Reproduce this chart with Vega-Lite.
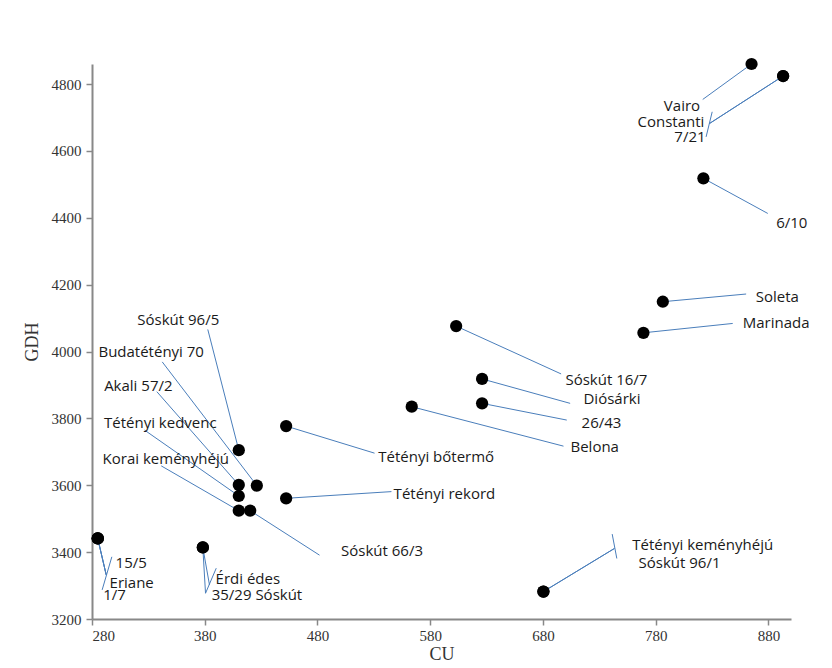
{
  "$schema": "https://vega.github.io/schema/vega-lite/v6.json",
  "autosize": "none",
  "width": 699,
  "height": 555,
  "padding": {"left": 92, "top": 64, "right": 41, "bottom": 49},
  "background": "white",
  "config": {
    "view": {"stroke": null},
    "axis": {
      "grid": false,
      "domainColor": "#888888",
      "domainWidth": 2,
      "tickColor": "#888888",
      "tickWidth": 1.5,
      "tickSize": 6,
      "labelFont": "Liberation Serif",
      "labelFontSize": 15,
      "labelColor": "#333333",
      "titleFont": "Liberation Serif",
      "titleFontSize": 18,
      "titleFontWeight": "normal",
      "titleColor": "#333333",
      "format": "d"
    }
  },
  "datasets": {
    "pts": [
      {"name": "Vairo", "cu": 865, "gdh": 4860, "tx": 803.3, "ty": 4734, "ex": 821.7, "ey": 4754},
      {"name": "Constanti", "cu": 893, "gdh": 4824, "tx": 793.5, "ty": 4686, "ex": 827.7, "ey": 4682},
      {"name": "7/21", "cu": 893, "gdh": 4824, "tx": 810.4, "ty": 4641, "ex": 827.7, "ey": 4682},
      {"name": "6/10", "cu": 822.3, "gdh": 4518, "tx": 900.7, "ty": 4383, "ex": 879.4, "ey": 4413},
      {"name": "Soleta", "cu": 786.3, "gdh": 4149, "tx": 887.8, "ty": 4164, "ex": 860.2, "ey": 4172},
      {"name": "Marinada", "cu": 769.1, "gdh": 4056, "tx": 886.8, "ty": 4084, "ex": 848.3, "ey": 4084},
      {"name": "Sóskút 16/7", "cu": 603, "gdh": 4076, "tx": 736.3, "ty": 3915, "ex": 696.1, "ey": 3933},
      {"name": "Diósárki", "cu": 626, "gdh": 3918, "tx": 741.2, "ty": 3857, "ex": 704.1, "ey": 3845},
      {"name": "26/43", "cu": 626, "gdh": 3845, "tx": 731.9, "ty": 3787, "ex": 701.1, "ey": 3795},
      {"name": "Belona", "cu": 563.6, "gdh": 3835, "tx": 725.9, "ty": 3715, "ex": 698.2, "ey": 3717},
      {"name": "Tétényi bőtermő", "cu": 452.2, "gdh": 3777, "tx": 585.3, "ty": 3685, "ex": 530.6, "ey": 3696},
      {"name": "Tétényi rekord", "cu": 452.2, "gdh": 3561, "tx": 592.6, "ty": 3574, "ex": 545.6, "ey": 3581},
      {"name": "Sóskút 96/5", "cu": 410.2, "gdh": 3705, "tx": 356.5, "ty": 4094, "ex": 382.7, "ey": 4066},
      {"name": "Budatétényi 70", "cu": 426.2, "gdh": 3599, "tx": 332.5, "ty": 3999, "ex": 342.3, "ey": 3969},
      {"name": "Akali 57/2", "cu": 410.2, "gdh": 3601, "tx": 321.1, "ty": 3897, "ex": 337.5, "ey": 3880},
      {"name": "Tétényi kedvenc", "cu": 410.2, "gdh": 3568, "tx": 340.6, "ty": 3785, "ex": 326.6, "ey": 3765},
      {"name": "Korai keményhéjú", "cu": 410.2, "gdh": 3524, "tx": 345.4, "ty": 3678, "ex": 341.4, "ey": 3658},
      {"name": "Sóskút 66/3", "cu": 420.3, "gdh": 3524, "tx": 537.2, "ty": 3403, "ex": 481.8, "ey": 3391},
      {"name": "Érdi édes", "cu": 378.3, "gdh": 3414, "tx": 418.2, "ty": 3319, "ex": 384.2, "ey": 3302},
      {"name": "35/29 Sóskút", "cu": 378.3, "gdh": 3414, "tx": 426.3, "ty": 3272, "ex": 380.7, "ey": 3277},
      {"name": "15/5", "cu": 285.1, "gdh": 3441, "tx": 314.8, "ty": 3367, "ex": 292.6, "ey": 3332},
      {"name": "Eriane", "cu": 285.1, "gdh": 3441, "tx": 315.2, "ty": 3309, "ex": 292.6, "ey": 3332},
      {"name": "1/7", "cu": 285.1, "gdh": 3441, "tx": 300, "ty": 3272, "ex": 292.6, "ey": 3332},
      {"name": "Tétényi keményhéjú", "cu": 680.4, "gdh": 3282, "tx": 821.7, "ty": 3421, "ex": 743.4, "ey": 3411},
      {"name": "Sóskút 96/1", "cu": 680.4, "gdh": 3282, "tx": 801.1, "ty": 3368, "ex": 743.4, "ey": 3411}
    ],
    "ticks": [
      {"x": 830.1, "y": 4717, "x2": 824.7, "y2": 4642},
      {"x": 390.2, "y": 3352, "x2": 380.7, "y2": 3277},
      {"x": 297.6, "y": 3386, "x2": 289.0, "y2": 3287},
      {"x": 741.4, "y": 3454, "x2": 745.5, "y2": 3381}
    ]
  },
  "layer": [
    {
      "data": {"name": "pts"},
      "mark": {"type": "rule", "color": "#4a7ebb", "strokeWidth": 1},
      "encoding": {
        "x": {"field": "cu", "type": "quantitative",
              "scale": {"domain": [280, 900], "nice": false, "zero": false},
              "axis": {"values": [280, 380, 480, 580, 680, 780, 880], "title": "CU", "titlePadding": 2, "labelPadding": 3}},
        "y": {"field": "gdh", "type": "quantitative",
              "scale": {"domain": [3200, 4860], "nice": false, "zero": false},
              "axis": {"values": [3200, 3400, 3600, 3800, 4000, 4200, 4400, 4600, 4800], "title": "GDH", "titlePadding": 10, "labelPadding": 5}},
        "x2": {"field": "ex"},
        "y2": {"field": "ey"}
      }
    },
    {
      "data": {"name": "ticks"},
      "mark": {"type": "rule", "color": "#4a7ebb", "strokeWidth": 1},
      "encoding": {
        "x": {"field": "x", "type": "quantitative"},
        "y": {"field": "y", "type": "quantitative"},
        "x2": {"field": "x2"},
        "y2": {"field": "y2"}
      }
    },
    {
      "data": {"name": "pts"},
      "mark": {"type": "circle", "color": "#000000", "opacity": 1, "size": 150},
      "encoding": {
        "x": {"field": "cu", "type": "quantitative"},
        "y": {"field": "gdh", "type": "quantitative"}
      }
    },
    {
      "data": {"name": "pts"},
      "mark": {"type": "text", "font": "Open Sans", "fontSize": 15, "color": "#1a1a1a", "align": "center", "baseline": "middle"},
      "encoding": {
        "x": {"field": "tx", "type": "quantitative"},
        "y": {"field": "ty", "type": "quantitative"},
        "text": {"field": "name"}
      }
    }
  ]
}
